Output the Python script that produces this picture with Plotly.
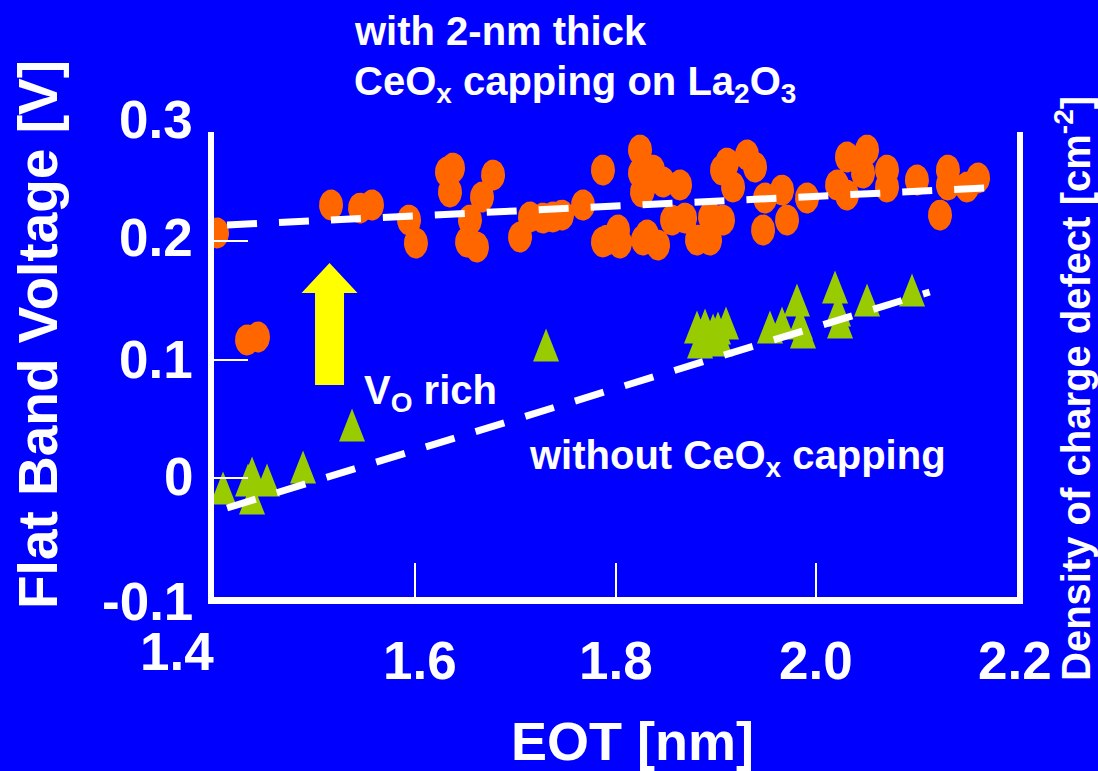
import numpy as np
import plotly.graph_objects as go

# ---- data -------------------------------------------------------------
# EOT [nm] / flat band voltage [V], La2O3 with 2-nm CeOx capping
capped_eot = [1.403, 1.4329, 1.4438, 1.5166, 1.5455, 1.5574, 1.5943, 1.6012, 1.6321, 1.6381,
              1.6351, 1.6780, 1.6670, 1.6550, 1.6521, 1.6620, 1.7049, 1.7148, 1.7278, 1.7377,
              1.7467, 1.7676, 1.7875, 1.7875, 1.8025, 1.8045, 1.8244, 1.8244, 1.8264, 1.8274,
              1.8374, 1.8274, 1.8473, 1.8643, 1.7915, 1.8314, 1.8424, 1.8563, 1.8693, 1.8812,
              1.8942, 1.9071, 1.8942, 1.9111, 1.9310, 1.9390, 1.9171, 1.9061, 1.9490, 1.9470,
              1.9709, 1.9659, 1.9908, 2.0207, 2.0306, 2.0306, 2.0506, 2.0705, 2.0705, 2.0466,
              2.1003, 2.1312, 2.1312, 2.1233, 2.1502, 2.1612]
capped_vfb = [0.2068, 0.1165, 0.1190, 0.2304, 0.2278, 0.2304, 0.2177, 0.1983, 0.2582, 0.2616,
              0.2414, 0.2557, 0.2371, 0.2177, 0.1992, 0.1949, 0.2034, 0.2203, 0.2194, 0.2203,
              0.2219, 0.2304, 0.2599, 0.1992, 0.2093, 0.1983, 0.2768, 0.2574, 0.2414, 0.2008,
              0.2599, 0.2430, 0.2498, 0.2473, 0.2008, 0.2051, 0.1966, 0.2177, 0.2194, 0.2008,
              0.2008, 0.2177, 0.2203, 0.2658, 0.2726, 0.2624, 0.2456, 0.2599, 0.2363, 0.2093,
              0.2177, 0.2430, 0.2363, 0.2473, 0.2388, 0.2709, 0.2768, 0.2599, 0.2456, 0.2574,
              0.2515, 0.2599, 0.2473, 0.2219, 0.2456, 0.2532]

# La2O3 without capping
bare_eot = [1.4090, 1.4339, 1.4379, 1.4528, 1.4379, 1.4887, 1.5375, 1.7308, 1.8812, 1.8892,
            1.8972, 1.9021, 1.9101, 1.8842, 1.8942, 1.9041, 1.9539, 1.9659, 1.9808, 1.9838,
            1.9868, 2.0187, 2.0217, 2.0237, 2.0506, 2.0954]
bare_vfb = [-0.0084, -0.0017, 0.0042, -0.0017, -0.0169, 0.0093, 0.0447, 0.1122, 0.1274, 0.1291,
            0.1249, 0.1266, 0.1308, 0.1148, 0.1165, 0.1165, 0.1274, 0.1308, 0.1502, 0.1308,
            0.1232, 0.1612, 0.1418, 0.1316, 0.1502, 0.1586]

# linear trend lines (end points)
capped_fit_eot = [1.413, 2.168]
capped_fit_vfb = [0.2135, 0.2447]
bare_fit_eot = [1.413, 2.113]
bare_fit_vfb = [-0.0253, 0.1570]

x_tick_vals = [1.4, 1.6, 1.8, 2.0, 2.2]
x_tick_text = ["1.4", "1.6", "1.8", "2.0", "2.2"]
y_tick_vals = [0.3, 0.2, 0.1, 0.0, -0.1]
y_tick_text = ["0.3", "0.2", "0.1", "0", "-0.1"]

# ---- layout constants ---------------------------------------------------
W, H = 1098, 771
PLOT_L, PLOT_R, PLOT_T, PLOT_B = 214, 1017, 132, 597
X_RANGE = [1.4, 2.2]
Y_RANGE = [-0.1004, 0.2920]
X_DOM = [PLOT_L / W, PLOT_R / W]
Y_DOM = [(H - PLOT_B) / H, (H - PLOT_T) / H]

BLUE = "#0000FF"
ORANGE = "#FF6600"
GREEN = "#99CC00"
YELLOW = "#FFFF00"
WHITE = "#FFFFFF"
FONT = "Liberation Sans, Arial, Helvetica, sans-serif"

# pixels per data unit
KX = (PLOT_R - PLOT_L) / (X_RANGE[1] - X_RANGE[0])
KY = (PLOT_B - PLOT_T) / (Y_RANGE[1] - Y_RANGE[0])


def px_x(px):
    return px / W


def px_y(py):
    return (H - py) / H


def val_y_paper(v):
    return Y_DOM[0] + (v - Y_RANGE[0]) / (Y_RANGE[1] - Y_RANGE[0]) * (Y_DOM[1] - Y_DOM[0])


def ellipses(xs, ys, w_px, h_px, n=40):
    """Filled ellipse outlines around each point, separated by gaps."""
    t = np.linspace(0, 2 * np.pi, n)
    rx, ry = w_px / 2 / KX, h_px / 2 / KY
    ox, oy = [], []
    for x, y in zip(xs, ys):
        ox += list(x + rx * np.cos(t)) + [None]
        oy += list(y + ry * np.sin(t)) + [None]
    return ox, oy


def triangles(xs, ys, w_px, h_px):
    """Upward triangles centred on each point."""
    hw, hh = w_px / 2 / KX, h_px / 2 / KY
    ox, oy = [], []
    for x, y in zip(xs, ys):
        ox += [x - hw, x + hw, x, x - hw, None]
        oy += [y - hh, y - hh, y + hh, y - hh, None]
    return ox, oy


fig = go.Figure()

cx, cy = ellipses(capped_eot, capped_vfb, 24, 31)
fig.add_trace(go.Scatter(x=cx, y=cy, mode="lines", fill="toself",
                         fillcolor=ORANGE, line=dict(width=0, color=ORANGE),
                         hoverinfo="skip", showlegend=False))

tx, ty = triangles(bare_eot, bare_vfb, 26, 33)
fig.add_trace(go.Scatter(x=tx, y=ty, mode="lines", fill="toself",
                         fillcolor=GREEN, line=dict(width=0, color=GREEN),
                         hoverinfo="skip", showlegend=False))

for fx, fy in [(capped_fit_eot, capped_fit_vfb), (bare_fit_eot, bare_fit_vfb)]:
    fig.add_trace(go.Scatter(x=fx, y=fy, mode="lines",
                             line=dict(color=WHITE, width=7, dash="30px,22px"),
                             hoverinfo="skip", showlegend=False))

# yellow "shift up" arrow
ARROW_X, ARROW_BASE, ARROW_TIP = 1.5151, 0.0785, 0.1814
head_len = 30 / KY
head_hw = 28 / KX
shaft_hw = 14.5 / KX
neck = ARROW_TIP - head_len
arrow_path = (f"M {ARROW_X - shaft_hw},{ARROW_BASE} L {ARROW_X + shaft_hw},{ARROW_BASE} "
              f"L {ARROW_X + shaft_hw},{neck} L {ARROW_X + head_hw},{neck} "
              f"L {ARROW_X},{ARROW_TIP} L {ARROW_X - head_hw},{neck} "
              f"L {ARROW_X - shaft_hw},{neck} Z")
fig.add_shape(type="path", path=arrow_path, xref="x", yref="y",
              fillcolor=YELLOW, line=dict(width=0), layer="above")

annotations = []

# y tick labels
y_nudge = {0.3: 3, 0.2: 4, 0.1: 0, 0.0: 2, -0.1: -5}
for v, t in zip(y_tick_vals, y_tick_text):
    annotations.append(dict(text=t, xref="paper", yref="paper", x=px_x(195),
                            y=val_y_paper(v), xanchor="right", yanchor="middle",
                            yshift=y_nudge[v], showarrow=False,
                            font=dict(family=FONT, size=53, color=WHITE, weight="bold")))

# x tick labels
x_nudge = {1.4: (-37, 9), 1.6: (5, 0), 1.8: (0, 0), 2.0: (0, 0), 2.2: (-2, 0)}
for v, t in zip(x_tick_vals, x_tick_text):
    dx, dy = x_nudge[v]
    annotations.append(dict(text=t, xref="x", yref="paper", x=v, y=px_y(660),
                            xanchor="center", yanchor="middle", xshift=dx, yshift=dy,
                            showarrow=False,
                            font=dict(family=FONT, size=53, color=WHITE, weight="bold")))

# axis titles
annotations.append(dict(text="EOT [nm]", xref="paper", yref="paper",
                        x=px_x(632), y=px_y(741), xanchor="center", yanchor="middle",
                        showarrow=False,
                        font=dict(family=FONT, size=54, color=WHITE, weight="bold")))
annotations.append(dict(text="Flat Band Voltage [V]", xref="paper", yref="paper",
                        x=px_x(38), y=px_y(335), xanchor="center", yanchor="middle",
                        textangle=-90, showarrow=False,
                        font=dict(family=FONT, size=55, color=WHITE, weight="bold")))
annotations.append(dict(text="Density of charge defect [cm<sup>-2</sup>]",
                        xref="paper", yref="paper", x=px_x(1073), y=px_y(389),
                        xanchor="center", yanchor="middle", textangle=-90,
                        showarrow=False,
                        font=dict(family=FONT, size=40, color=WHITE, weight="bold")))

# in-plot notes
notes = [
    ("with 2-nm thick", 352, 31),
    ("CeO<sub>x</sub> capping on La<sub>2</sub>O<sub>3</sub>", 352, 84),
    ("V<sub>O</sub> rich", 362, 393),
    ("without CeO<sub>x</sub> capping", 527, 458),
]
for t, x0, y0 in notes:
    annotations.append(dict(text=t, xref="paper", yref="paper", x=px_x(x0), y=px_y(y0),
                            xanchor="left", yanchor="middle", showarrow=False,
                            font=dict(family=FONT, size=40, color=WHITE, weight="bold")))

fig.update_layout(
    width=W, height=H, autosize=False,
    margin=dict(l=0, r=0, t=0, b=0),
    paper_bgcolor=BLUE, plot_bgcolor=BLUE,
    showlegend=False,
    annotations=annotations,
    xaxis=dict(domain=X_DOM, range=X_RANGE, showgrid=False, zeroline=False,
               showline=True, linecolor=WHITE, linewidth=7, mirror=False,
               ticks="inside", tickvals=[1.6, 1.8, 2.0], ticklen=34, tickwidth=2,
               tickcolor=WHITE, showticklabels=False, fixedrange=True),
    yaxis=dict(domain=Y_DOM, range=Y_RANGE, showgrid=False, zeroline=False,
               showline=True, linecolor=WHITE, linewidth=6, mirror=True,
               ticks="inside", tickvals=[0.2, 0.1, 0.0, -0.1], ticklen=34, tickwidth=2,
               tickcolor=WHITE, showticklabels=False, fixedrange=True),
)

fig.write_html("out.html")
